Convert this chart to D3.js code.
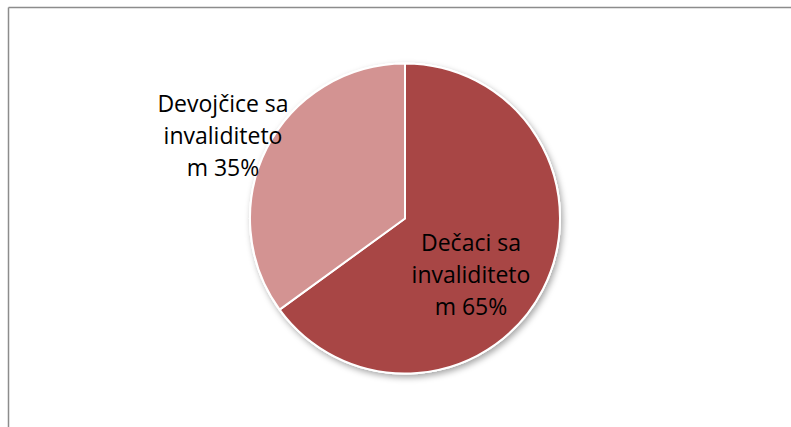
<!DOCTYPE html>
<html>
<head>
<meta charset="utf-8">
<script src="https://cdn.jsdelivr.net/npm/d3@7"></script>
<style>
html,body{margin:0;padding:0;background:#fff;}
svg{display:block;}
</style>
</head>
<body>
<script>
const categories = ["Dečaci sa invaliditetom", "Devojčice sa invaliditetom"];
const values = [65, 35];
const labelLines = [["Dečaci sa", "invaliditeto", "m 65%"], ["Devojčice sa", "invaliditeto", "m 35%"]];
const colors = ["#A84645", "#D39392"];

const W = 791, H = 427;
const svg = d3.select("body").append("svg").attr("width", W).attr("height", H);

// chart border (top and left visible)
svg.append("line").attr("x1", 8.5).attr("y1", 7.5).attr("x2", W).attr("y2", 7.5).attr("stroke", "#8c8c8c").attr("stroke-width", 1.5);
svg.append("line").attr("x1", 8.5).attr("y1", 7.5).attr("x2", 8.5).attr("y2", H).attr("stroke", "#8c8c8c").attr("stroke-width", 1.5);

const defs = svg.append("defs");
const f = defs.append("filter").attr("id", "sh").attr("x", "-20%").attr("y", "-20%").attr("width", "140%").attr("height", "140%");
f.append("feDropShadow").attr("dx", 2).attr("dy", 3).attr("stdDeviation", 3).attr("flood-color", "#000").attr("flood-opacity", 0.35);

const cx = 405, cy = 218.5, r = 155;
const pie = d3.pie().sort(null).value(d => d)(values);
const arc = d3.arc().innerRadius(0).outerRadius(r);

const g = svg.append("g").attr("transform", `translate(${cx},${cy})`);
g.append("circle").attr("r", r + 1).attr("fill", "#fff").attr("filter", "url(#sh)");
g.selectAll("path.slice").data(pie).join("path")
  .attr("class", "slice")
  .attr("d", arc)
  .attr("fill", (d, i) => colors[i])
  .attr("stroke", "#fff")
  .attr("stroke-width", 2)
  .attr("stroke-linejoin", "round");

// label anchor offsets relative to center (middle line baseline)
const labelOffsets = [[66, 64], [-182, -75]];
const lh = 32;
labelLines.forEach((lines, i) => {
  const t = g.append("text")
    .attr("text-anchor", "middle")
    .attr("font-family", "'Open Sans', sans-serif")
    .attr("font-size", 23)
    .attr("fill", "#000");
  lines.forEach((ln, j) => {
    t.append("tspan")
      .attr("x", labelOffsets[i][0])
      .attr("y", labelOffsets[i][1] + (j - 1) * lh)
      .text(ln);
  });
});
</script>
</body>
</html>
